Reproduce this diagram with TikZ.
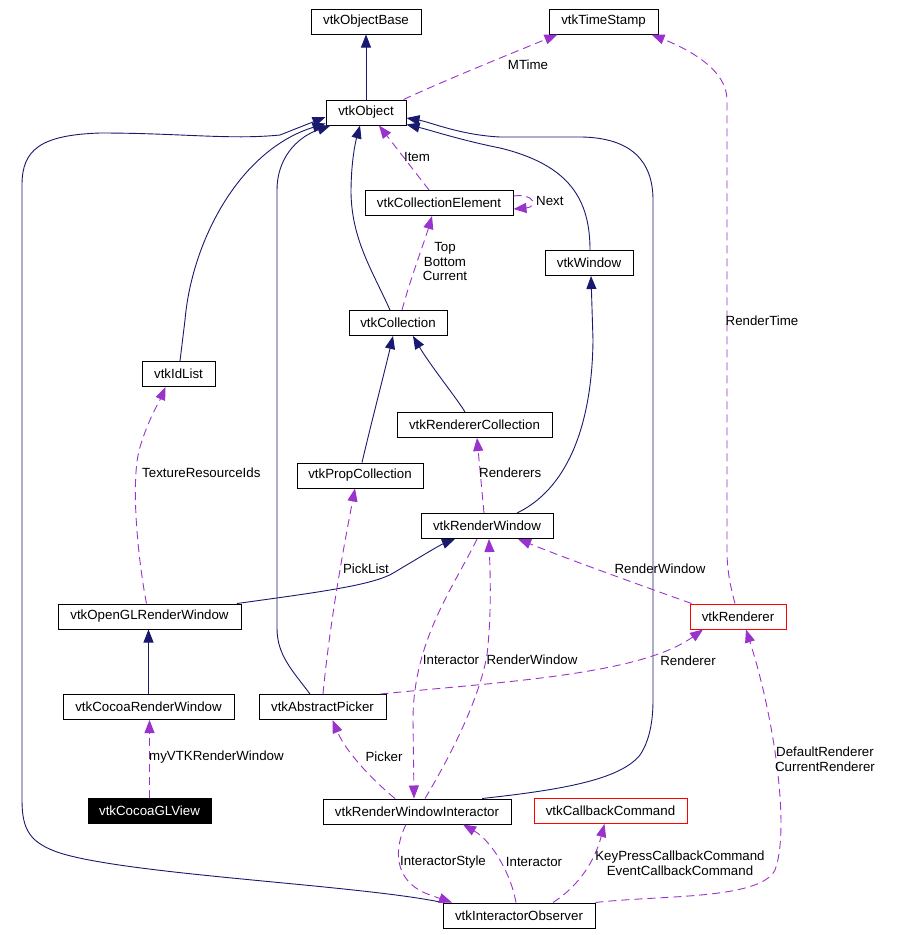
\documentclass[tikz,border=0pt]{standalone}
\usepackage{fontspec}
\setmainfont{Liberation Sans}
\usetikzlibrary{arrows.meta}
\definecolor{navy}{RGB}{25,25,112}
\definecolor{orch}{RGB}{154,50,205}
\begin{document}
\begin{tikzpicture}[x=1pt,y=-1pt,
  box/.style={draw=black,line width=1pt,minimum height=25pt,inner sep=0pt,font=\fontsize{13.3}{15}\selectfont},
  redbox/.style={box,draw=red},
  inh/.style={draw=navy,line width=0.9pt,-{Triangle[length=13pt,width=10pt]},navy},
  use/.style={draw=orch,line width=0.9pt,dash pattern=on 8pt off 5pt,-{Triangle[length=13pt,width=10pt]},orch},
  lbl/.style={font=\fontsize{13.3}{14.5}\selectfont,inner sep=0pt,align=center}]
\useasboundingbox (0,0) rectangle (904,935);
\fill[white] (0,0) rectangle (904,935);

% nodes
\node[box,minimum width=110pt] (base) at (366,21.5) {vtkObjectBase};
\node[box,minimum width=109pt] (ts) at (603.5,21.5) {vtkTimeStamp};
\node[box,minimum width=80pt] (obj) at (366,112.5) {vtkObject};
\node[box,minimum width=148pt] (ce) at (439,203) {vtkCollectionElement};
\node[box,minimum width=88pt] (win) at (589,263) {vtkWindow};
\node[box,minimum width=98pt] (coll) at (398,323) {vtkCollection};
\node[box,minimum width=73pt] (idl) at (178.5,374) {vtkIdList};
\node[box,minimum width=155pt] (rc) at (474.5,425) {vtkRendererCollection};
\node[box,minimum width=126pt] (pc) at (360,475.5) {vtkPropCollection};
\node[box,minimum width=132pt] (rw) at (487,526) {vtkRenderWindow};
\node[box,minimum width=183pt] (oglrw) at (149.5,616.5) {vtkOpenGLRenderWindow};
\node[redbox,minimum width=96pt] (ren) at (738,616.5) {vtkRenderer};
\node[box,minimum width=171pt] (crw) at (148.5,707) {vtkCocoaRenderWindow};
\node[box,minimum width=127pt] (ap) at (322.5,707) {vtkAbstractPicker};
\node[box,minimum width=123pt,fill=black,text=white] (cgl) at (149.5,811) {vtkCocoaGLView};
\node[box,minimum width=188pt] (rwi) at (417,811.5) {vtkRenderWindowInteractor};
\node[redbox,minimum width=153pt] (cc) at (610.5,811) {vtkCallbackCommand};
\node[box,minimum width=152pt] (io) at (519,915.5) {vtkInteractorObserver};

% inheritance (solid)
\draw[inh] (obj.north) -- (base.south);
\draw[inh] ([xshift=-8pt]coll.north) .. controls (372,270) and (352,240) .. (351,193) .. controls (351,160) and (356,140) .. ([xshift=-6pt]obj.south);
\draw[inh] ([xshift=1.5pt]idl.north) -- (185,320) .. controls (192,240) and (240,150) .. ([yshift=2pt]obj.south west);
\draw[inh] ([xshift=-12.5pt]ap.north) .. controls (292,670) and (277,655) .. (277,628) -- (277,190) .. controls (277,160) and (295,138) .. ([xshift=5pt]obj.south west);
\draw[inh] (io.north west) .. controls (360,885) and (130,875) .. (60,853) .. controls (30,843) and (22,830) .. (22,800) -- (22,185) .. controls (22,150) and (40,135) .. (100,133) .. controls (180,133) and (230,140) .. (280,135) -- ([yshift=-4.5pt]obj.west);
\draw[inh] ([xshift=1pt]win.north) .. controls (590,200) and (570,165) .. (500,148) .. controls (460,140) and (430,130) .. ([yshift=1pt]obj.south east);
\draw[inh] ([xshift=65pt]rwi.north) .. controls (560,790) and (620,780) .. (640,755) .. controls (650,740) and (653,720) .. (653,700) -- (653,200) .. controls (653,160) and (630,138) .. (582,137) -- (500,137) .. controls (460,135) and (430,122) .. ([yshift=-5.5pt]obj.east);
\draw[inh] ([xshift=2pt]pc.north) .. controls (372,420) and (385,370) .. ([xshift=-5pt]coll.south);
\draw[inh] ([xshift=-9.5pt]rc.north) .. controls (458,400) and (430,365) .. ([xshift=15pt]coll.south);
\draw[inh] ([xshift=30pt]rw.north) .. controls (565,490) and (592,430) .. (593,340) -- ([xshift=2pt]win.south);
\draw[inh] ([xshift=87.5pt]oglrw.north) .. controls (320,592) and (375,585) .. (395,572) .. controls (415,560) and (440,545) .. ([xshift=-32pt]rw.south);
\draw[inh] (crw.north) -- (crw.north |- oglrw.south);

% usage (dashed)
\draw[use] ([xshift=-3pt]obj.north east) .. controls (450,78) and (520,50) .. ([xshift=-46pt]ts.south);
\node[lbl] (lmtime) at (528,65) {MTime};

\draw[use] ([xshift=-3pt]ren.north) .. controls (730,585) and (727,570) .. (727,550) -- (727,100) .. controls (727,70) and (690,50) .. ([xshift=48pt]ts.south);
\node[lbl] (lrtime) at (762,321) {RenderTime};

\draw[use] ([xshift=-10pt]ce.north) -- ([xshift=13pt]obj.south);
\node[lbl] (litem) at (417,157) {Item};

\draw[use] ([yshift=7pt]ce.east) .. controls (535,193) and (538,207) .. ([yshift=-6pt]ce.east);
\node[lbl,anchor=west] (lnext) at (536,201) {Next};

\draw[use] ([xshift=4pt]coll.north) .. controls (410,280) and (425,240) .. ([xshift=-7pt]ce.south);
\node[lbl] (ltop) at (445,261.5) {Top\\Bottom\\Current};

\draw[use] ([xshift=-3pt]oglrw.north) .. controls (138,560) and (130,480) .. (140,447) .. controls (148,420) and (160,400) .. ([xshift=-13pt]idl.south);
\node[lbl,anchor=west] (ltex) at (142,473) {TextureResourceIds};

\draw[use] ([xshift=0.5pt]ap.north) .. controls (330,620) and (345,540) .. ([xshift=-5pt]pc.south);
\node[lbl] (lpick) at (366,569) {PickList};

\draw[use] ([xshift=-3pt]rw.north) -- ([xshift=2.5pt]rc.south);
\node[lbl,anchor=west] (lrens) at (479,473) {Renderers};

\draw[use] ([xshift=2pt]ren.north west) .. controls (640,585) and (570,560) .. ([xshift=31pt]rw.south);
\node[lbl] (lrw1) at (660,569) {RenderWindow};

\draw[use] ([xshift=-6pt]ap.north east) .. controls (500,682) and (640,675) .. ([xshift=-35pt]ren.south);
\node[lbl] (lren) at (688,661) {Renderer};

\draw[use] ([xshift=-10pt]rw.south) .. controls (455,585) and (413,640) .. (413,720) -- ([xshift=-3pt]rwi.north);
\node[lbl] (linter1) at (451,660) {Interactor};

\draw[use] ([xshift=8pt]rwi.north) .. controls (445,765) and (478,705) .. (487,655) .. controls (492,610) and (490,570) .. ([xshift=2pt]rw.south);
\node[lbl] (lrw2) at (532,660) {RenderWindow};

\draw[use] ([xshift=-22pt]rwi.north) .. controls (370,778) and (345,750) .. ([xshift=10pt]ap.south);
\node[lbl] (lpicker) at (384,757) {Picker};

\draw[use] (cgl.north) -- (cgl.north |- crw.south);
\node[lbl,anchor=west] (lmy) at (149,757) {myVTKRenderWindow};

\draw[use] ([xshift=-3pt]io.north) .. controls (510,870) and (490,840) .. ([xshift=46pt]rwi.south);
\node[lbl] (linter2) at (534,862) {Interactor};

\draw[use] ([xshift=-11pt]rwi.south) .. controls (393,850) and (395,880) .. (425,893) .. controls (435,897) and (445,900) .. ([xshift=-67pt]io.north);
\node[lbl] (lstyle) at (443,862) {InteractorStyle};

\draw[use] ([xshift=34pt]io.north) .. controls (580,885) and (595,860) .. ([xshift=-6pt]cc.south);
\node[lbl] (lkey) at (680,863) {KeyPressCallbackCommand\\EventCallbackCommand};

\draw[use] (io.north east) .. controls (660,895) and (760,900) .. (775,870) .. controls (790,830) and (775,720) .. ([xshift=8pt]ren.south);
\node[lbl] (ldef) at (825,759) {DefaultRenderer\\CurrentRenderer};
\end{tikzpicture}
\end{document}
